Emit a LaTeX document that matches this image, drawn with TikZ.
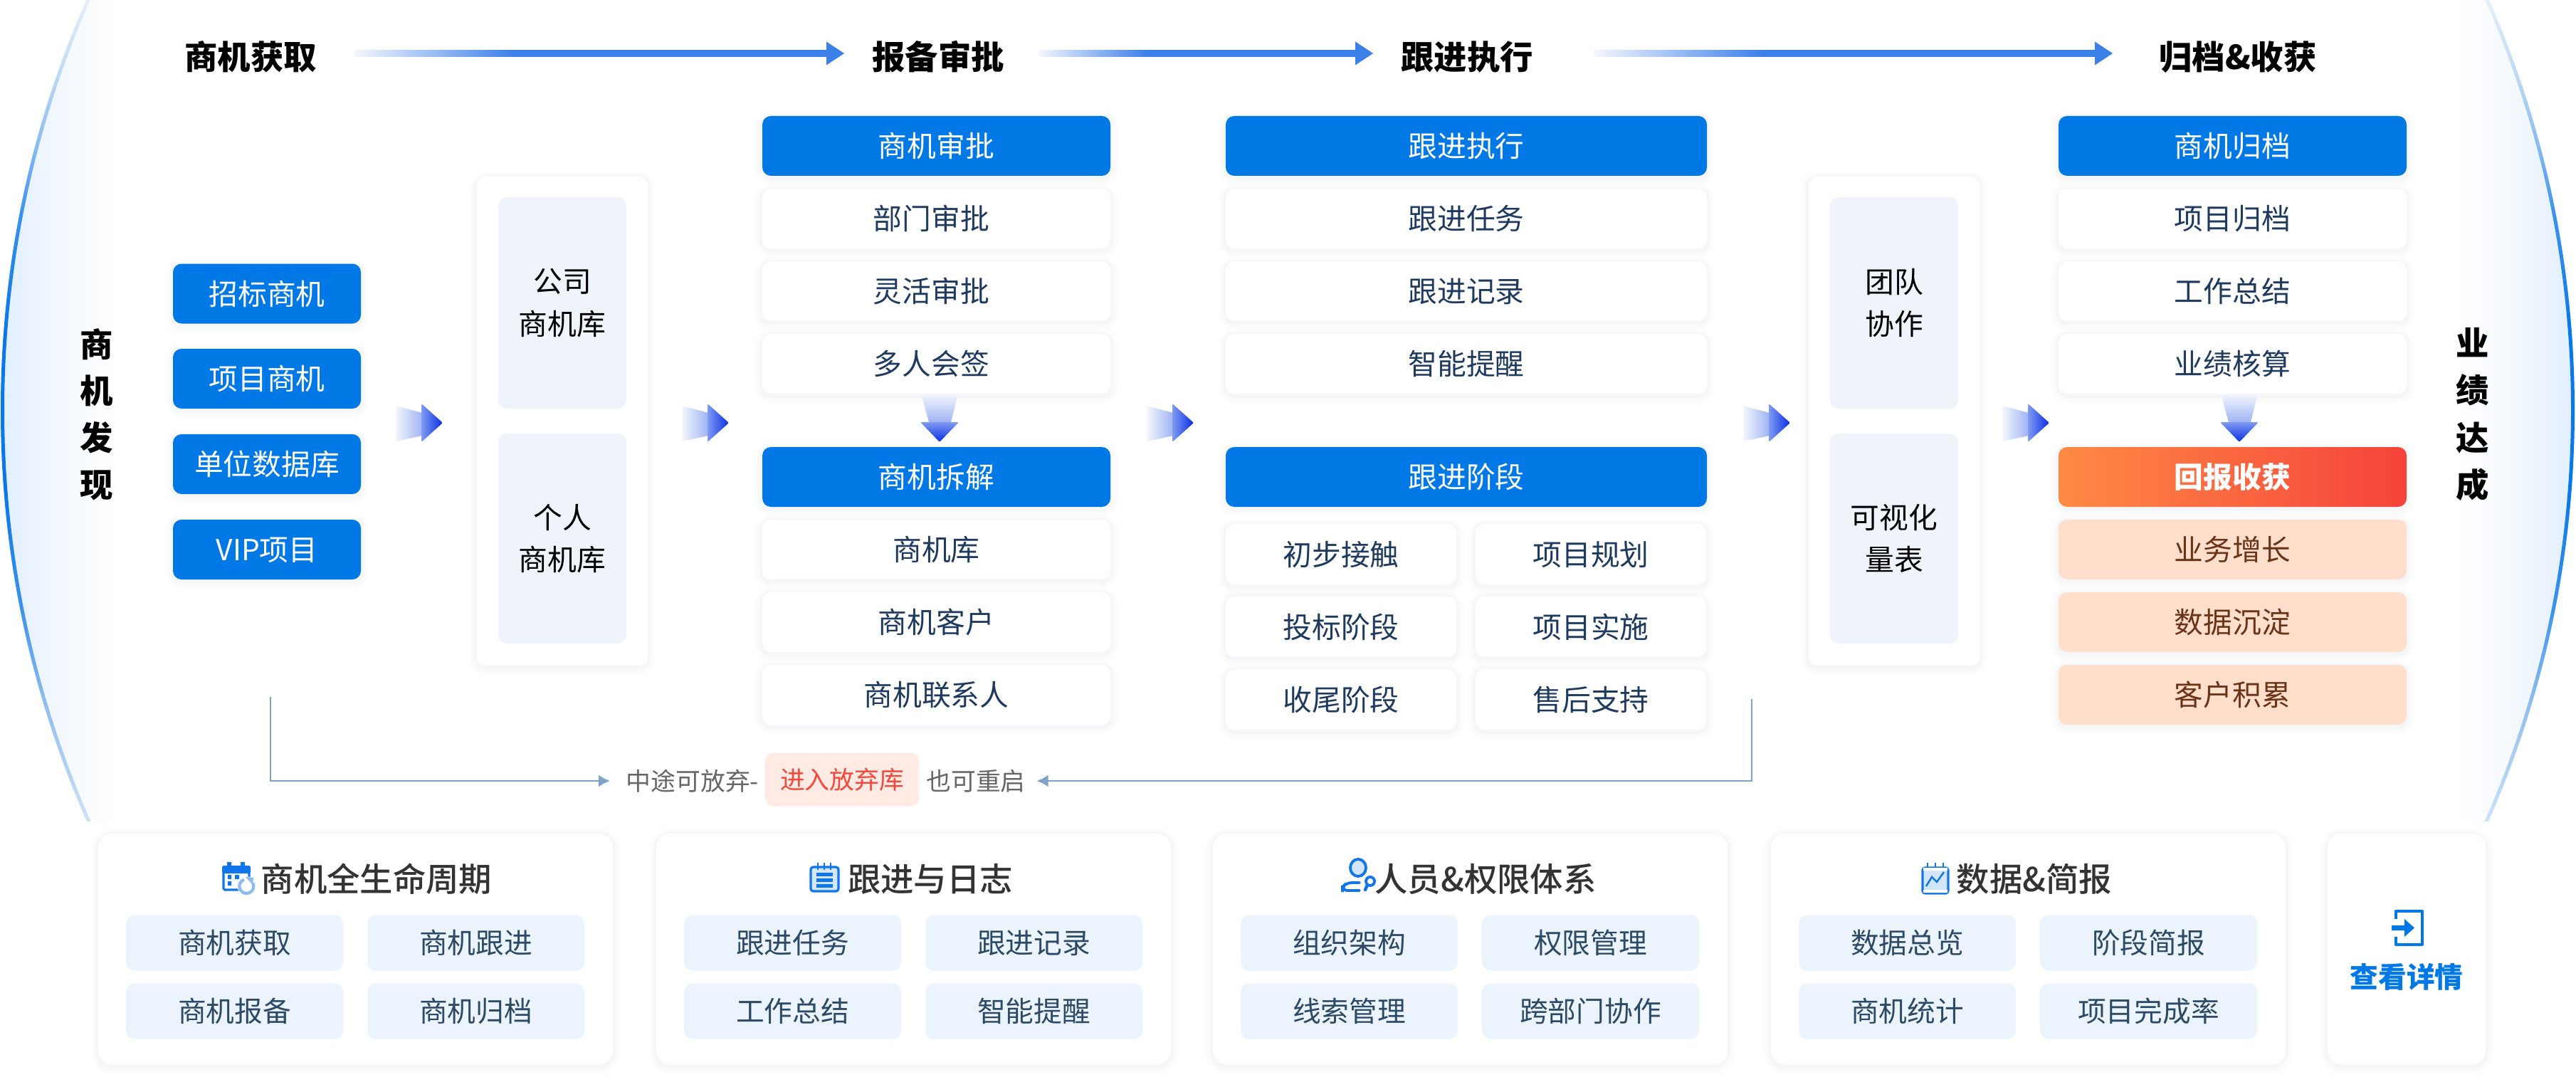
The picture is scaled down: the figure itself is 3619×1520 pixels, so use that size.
\documentclass[tikz,border=0pt]{standalone}
\usepackage{fontspec}
\setmainfont{Noto Sans CJK SC}
\newfontfamily\cardfont{Noto Sans CJK SC Medium}
\usetikzlibrary{arrows.meta}

\definecolor{brandblue}{HTML}{0078E6}
\definecolor{navytext}{HTML}{1F3A5F}
\definecolor{chiptext}{HTML}{2C4A66}
\definecolor{chipfill}{HTML}{EBF3FD}
\definecolor{panelfill}{HTML}{EFF4FB}
\definecolor{peachfill}{HTML}{FFDFCC}
\definecolor{peachtext}{HTML}{6B3418}
\definecolor{tagfill}{HTML}{FFEBE4}
\definecolor{tagtext}{HTML}{F5473B}
\definecolor{linkline}{HTML}{7EA3C6}
\definecolor{shaftblue}{HTML}{3B7FE9}
\definecolor{shaftpale}{HTML}{F4F7FD}
\definecolor{tailend}{HTML}{9FB3F3}
\definecolor{headstart}{HTML}{7F9BF2}
\definecolor{headend}{HTML}{0A2DE3}
\definecolor{gainleft}{HTML}{FF8A45}
\definecolor{gainright}{HTML}{F5433A}
\definecolor{shadowtint}{HTML}{5A7090}
\definecolor{glowblue}{HTML}{E0EEFE}
\definecolor{glowsoft}{HTML}{F5F9FE}
\definecolor{iconblue}{HTML}{1177E8}
\definecolor{iconpale}{HTML}{D3E5FB}
\definecolor{arcend}{HTML}{CCE2F8}
\definecolor{arctop}{HTML}{E6EFFA}
\definecolor{arcsoft}{HTML}{C0DBF5}
\definecolor{arcmid}{HTML}{8CBCEF}
\definecolor{arcstrong}{HTML}{3C92EA}
\definecolor{arcfull}{HTML}{0A78E8}

\pgfdeclareverticalshading{arcshade}{100bp}{color(0bp)=(arcend); color(25bp)=(arcend); color(32.4bp)=(arcmid); color(38bp)=(arcstrong); color(45bp)=(arcfull); color(55bp)=(arcfull); color(62bp)=(arcstrong); color(66.3bp)=(arcmid); color(70.7bp)=(arcsoft); color(75bp)=(arctop); color(100bp)=(arctop)}
\pgfdeclarehorizontalshading{shaftshade}{100bp}{color(0bp)=(shaftpale); color(25bp)=(shaftpale); color(42bp)=(shaftblue); color(100bp)=(shaftblue)}
\pgfdeclarehorizontalshading{glowleft}{100bp}{color(0bp)=(glowblue); color(25bp)=(glowblue); color(52bp)=(glowsoft); color(75bp)=(white); color(100bp)=(white)}
\pgfdeclarehorizontalshading{glowright}{100bp}{color(0bp)=(white); color(25bp)=(white); color(48bp)=(glowsoft); color(75bp)=(glowblue); color(100bp)=(glowblue)}

\tikzset{
  softshadow/.style={
    preaction={draw=shadowtint,line width=6pt,opacity=.012,transform canvas={yshift=-1pt}},
    preaction={draw=shadowtint,line width=4pt,opacity=.018,transform canvas={yshift=-1pt}},
    preaction={draw=shadowtint,line width=2pt,opacity=.025,transform canvas={yshift=-.6pt}}},
  boxsize/.style 2 args={minimum width=#1*0.1mm,minimum height=#2*0.1mm,inner sep=0pt,outer sep=0pt},
  textbig/.style={font=\fontsize{13.2}{16}\bfseries\selectfont,text height=3.5mm,text depth=0pt},
  textbox/.style={font=\fontsize{11.6}{17}\selectfont,text height=3.1mm,text depth=0pt},
  textchip/.style={font=\fontsize{11.3}{14}\selectfont,text height=3mm,text depth=0pt},
  textsmall/.style={font=\fontsize{9.9}{12}\selectfont,text height=2.65mm,text depth=0pt},
  bluebox/.style={fill=brandblue,text=white,rounded corners=1.2mm,softshadow,textbox},
  whitebox/.style={fill=white,text=navytext,rounded corners=1.2mm,softshadow,textbox},
  peachbox/.style={fill=peachfill,text=peachtext,rounded corners=1.2mm,softshadow,textbox},
  outerpanel/.style={fill=white,rounded corners=1.2mm,softshadow},
  innerpanel/.style={fill=panelfill,rounded corners=1.2mm,text=black,align=center,font=\fontsize{11.6}{17}\selectfont},
  card/.style={fill=white,rounded corners=2mm,softshadow},
  chip/.style={fill=chipfill,text=chiptext,rounded corners=1.2mm,textchip},
  toptitle/.style={text=black,textbig},
  sidetitle/.style={text=black,textbig},
  cardtitle/.style={text=black!80,font=\fontsize{13.2}{16}\cardfont\selectfont,text height=3.5mm,text depth=0pt},
  link/.style={draw=linkline,line width=.7pt,-{Latex[length=1.6mm,width=1.7mm]}},
  pics/rightgrad/.style={code={
    \shade[left color=shaftpale,right color=tailend] (0,-24) -- (37,-14) -- (37,18) -- (0,26) -- cycle;
    \shade[left color=headstart,right color=headend,rounded corners=.6pt] (36,-27) -- (66,0) -- (36,27) -- cycle;
  }},
  pics/downgrad/.style={code={
    \shade[top color=shaftpale,bottom color=tailend] (-26,0) -- (26,0) -- (16,40) -- (-15,40) -- cycle;
    \shade[top color=headstart,bottom color=headend,rounded corners=.6pt] (-27,40) -- (27,40) -- (0,68) -- cycle;
  }}
}

\begin{document}
\begin{tikzpicture}[x=0.1mm,y=-0.1mm]
  \useasboundingbox (0,0) rectangle (3619,1520);
  \fill[white] (0,0) rectangle (3619,1520);

  % Side glow
  \begin{scope}
    \clip (1437,576) circle (1436);
    \shade[shading=glowleft] (0,0) rectangle (170,1153);
  \end{scope}
  \begin{scope}
    \clip (2181,576) circle (1436);
    \shade[shading=glowright] (3449,0) rectangle (3619,1153);
  \end{scope}

  % Side arcs
  \begin{scope}[even odd rule]
    \clip (1437,576) circle (1436) (1437,576) circle (1431);
    \shade[shading=arcshade] (0,0) rectangle (130,1153);
  \end{scope}
  \begin{scope}[even odd rule]
    \clip (2181,576) circle (1436) (2181,576) circle (1431);
    \shade[shading=arcshade] (3489,0) rectangle (3619,1153);
  \end{scope}

  % Stage titles
  \node[toptitle] (tt1) at (352,80) {商机获取};
  \node[toptitle] (tt2) at (1318,80) {报备审批};
  \node[toptitle] (tt3) at (2061,80) {跟进执行};
  \node[toptitle] (tt4) at (3144,80) {归档\&收获};

  % Stage arrows
  \foreach \s/\e in {498/1186,1459/1929,2239/2968} {
    \shade[shading=shaftshade] (\s,70.5) rectangle (\e-24,79.5);
    \fill[shaftblue] (\e-25,58.5) -- (\e,75) -- (\e-25,91.5) -- cycle;
  }

  % Side titles
  \foreach \nm/\cy/\txt in {sa/484/商,sb/549/机,sc/615/发,sd/681/现}
    \node[sidetitle] (\nm) at (136,\cy) {\txt};
  \foreach \nm/\cy/\txt in {se/482/业,sf/548/绩,sg/615/达,sh/681/成}
    \node[sidetitle] (\nm) at (3474,\cy) {\txt};

  % Sources
  \foreach \nm/\cy/\txt in {src1/412.5/招标商机,src2/532/项目商机,src3/652/单位数据库,src4/772/VIP项目}
    \node[bluebox,boxsize={264}{84}] (\nm) at (375,\cy) {\txt};

  % Pools
  \node[outerpanel,boxsize={240}{687}] (pool) at (790,591.5) {};
  \node[innerpanel,boxsize={180}{297}] (poolco) at (790,425.5) {公司\\商机库};
  \node[innerpanel,boxsize={180}{295}] (poolme) at (790,756.5) {个人\\商机库};

  % Approval
  \node[bluebox,boxsize={489}{84}] (apphead) at (1315.5,205) {商机审批};
  \foreach \nm/\cy/\txt in {app1/307/部门审批,app2/409/灵活审批,app3/511/多人会签}
    \node[whitebox,boxsize={489}{84}] (\nm) at (1315.5,\cy) {\txt\hspace*{1.4mm}};
  \node[bluebox,boxsize={489}{84}] (splithead) at (1315.5,670) {商机拆解};
  \foreach \nm/\cy/\txt in {split1/772/商机库,split2/874/商机客户,split3/976/商机联系人}
    \node[whitebox,boxsize={489}{84}] (\nm) at (1315.5,\cy) {\txt};

  % Follow-up
  \node[bluebox,boxsize={676}{84}] (fuhead) at (2060,205) {跟进执行};
  \foreach \nm/\cy/\txt in {fu1/307/跟进任务,fu2/409/跟进记录,fu3/511/智能提醒}
    \node[whitebox,boxsize={676}{84}] (\nm) at (2060,\cy) {\txt};
  \node[bluebox,boxsize={676}{84}] (stagehead) at (2060,670) {跟进阶段};
  \foreach \nm/\cx/\cy/\txt in {st1/1884/778.5/初步接触,st2/2235/778.5/项目规划,st3/1884/880.5/投标阶段,st4/2235/880.5/项目实施,st5/1884/982.5/收尾阶段,st6/2235/982.5/售后支持}
    \node[whitebox,boxsize={324}{85}] (\nm) at (\cx,\cy) {\txt};

  % Teamwork
  \node[outerpanel,boxsize={240}{687}] (team) at (2661,591.5) {};
  \node[innerpanel,boxsize={180}{297}] (teama) at (2661,425.5) {团队\\协作};
  \node[innerpanel,boxsize={180}{295}] (teamb) at (2661,756.5) {可视化\\量表};

  % Archive
  \node[bluebox,boxsize={489}{84}] (archead) at (3136.5,205) {商机归档};
  \foreach \nm/\cy/\txt in {arc1/307/项目归档,arc2/409/工作总结,arc3/511/业绩核算}
    \node[whitebox,boxsize={489}{84}] (\nm) at (3136.5,\cy) {\txt};
  \node[left color=gainleft,right color=gainright,text=white,rounded corners=1.2mm,softshadow,textbox,font=\fontsize{11.6}{17}\bfseries\selectfont,boxsize={489}{84}] (gain) at (3136.5,670) {回报收获};
  \foreach \nm/\cy/\txt in {gain1/772/业务增长,gain2/874/数据沉淀,gain3/976/客户积累}
    \node[peachbox,boxsize={489}{84}] (\nm) at (3136.5,\cy) {\txt};

  % Gradient arrows
  \foreach \x in {556,958,1611,2449,2813}
    \pic at (\x,594) {rightgrad};
  \foreach \x in {1320,3146}
    \pic at (\x,553) {downgrad};

  % Abandon loop
  \node[fill=tagfill,text=tagtext,rounded corners=1.2mm,textsmall,boxsize={216}{75}] (tag) at (1183,1095) {进入放弃库};
  \node[text=black!60,textsmall,inner xsep=2.3mm,inner ysep=0pt,outer sep=0pt] (giveup) at (973,1097) {中途可放弃-};
  \node[text=black!60,textsmall,inner xsep=1.6mm,inner ysep=0pt,outer sep=0pt] (restart) at (1371,1097) {也可重启};
  \coordinate (loopa) at (380,979);
  \coordinate (loopb) at (2461,982);
  \draw[link] (loopa) |- (giveup);
  \draw[link] (loopb) |- (restart);

  % Bottom cards
  \foreach \cl/\a/\b/\c/\d in {138/商机获取/商机跟进/商机报备/商机归档,922/跟进任务/跟进记录/工作总结/智能提醒,1704/组织架构/权限管理/线索管理/跨部门协作,2488/数据总览/阶段简报/商机统计/项目完成率} {
    \node[card,boxsize={723}{325}] (card\cl) at (\cl+361.5,1333) {};
    \node[chip,boxsize={305}{78}] (chip\cl a) at (\cl+191.5,1324.5) {\a};
    \node[chip,boxsize={305}{78}] (chip\cl b) at (\cl+530.5,1324.5) {\b};
    \node[chip,boxsize={305}{78}] (chip\cl c) at (\cl+191.5,1420.5) {\c};
    \node[chip,boxsize={305}{78}] (chip\cl d) at (\cl+530.5,1420.5) {\d};
  }
  \node[card,boxsize={222}{325}] (more) at (3381,1333) {};

  \node[cardtitle] (ct1) at (529,1235) {商机全生命周期};
  \node[cardtitle] (ct2) at (1307,1235) {跟进与日志};
  \node[cardtitle] (ct3) at (2087,1235) {人员\&权限体系};
  \node[cardtitle] (ct4) at (2858,1235) {数据\&简报};
  \node[text=brandblue,font=\fontsize{11.3}{14}\bfseries\selectfont,text height=3mm,text depth=0pt] (moretxt) at (3381,1372) {查看详情};

  % Calendar icon
  \draw[iconblue,line width=.9pt,rounded corners=.5pt] (350,1240) -- (350,1218) -- (314,1218) -- (314,1250) -- (335,1250);
  \fill[iconblue,rounded corners=.5pt] (312,1216) rectangle (352,1227);
  \fill[iconblue] (319,1211) rectangle (325,1218) (338,1211) rectangle (344,1218);
  \fill[iconblue] (320,1229) rectangle (325,1235) (330,1229) rectangle (336,1235) (320,1238) rectangle (325,1244);
  \fill[white] (346,1244) circle (13);
  \draw[arcmid,line width=1.2pt] (355,1240) arc (-30:250:10);
  \fill[arcmid] (345,1232) -- (356,1233) -- (355,1243) -- cycle;

  % Notepad icon
  \draw[iconblue,fill=iconpale,line width=.9pt,rounded corners=1pt] (1139,1218) rectangle (1178,1252);
  \foreach \x in {1149,1158,1167}
    \draw[iconblue,line width=.7pt] (\x,1212) -- (\x,1222);
  \foreach \y in {1228,1236,1244}
    \fill[iconblue] (1147,\y-2.5) rectangle (1170,\y+2.5);

  % Person icon
  \draw[iconblue,fill=iconpale,line width=1.1pt] (1908,1219) ellipse (11 and 12);
  \draw[iconblue,line width=1.1pt,rounded corners=2pt,line cap=round] (1910,1240) -- (1892,1240) -- (1886,1246) -- (1886,1251) -- (1910,1251);
  \draw[iconblue,line width=1.1pt] (1925,1238) circle (6);
  \draw[iconblue,line width=1.3pt,line cap=round] (1921,1243) -- (1918,1250);

  % Chart icon
  \draw[iconblue,fill=iconpale,line width=.9pt,rounded corners=1pt] (2701,1219) rectangle (2737,1255);
  \fill[white] (2702,1219) rectangle (2736,1223) (2702,1250) rectangle (2736,1254);
  \foreach \x in {2708,2719,2730}
    \draw[iconblue,line width=.6pt] (\x,1212) -- (\x,1219);
  \draw[iconblue,line width=.7pt] (2706,1245) -- (2714,1232) -- (2721,1239) -- (2731,1225);

  % Enter icon
  \draw[brandblue,line width=1.3pt,line join=round] (3366,1291) -- (3366,1280) -- (3403,1280) -- (3403,1327) -- (3366,1327) -- (3366,1316);
  \fill[brandblue] (3360,1300) -- (3378,1300) -- (3378,1291) -- (3392,1303.5) -- (3378,1316) -- (3378,1307) -- (3360,1307) -- cycle;
\end{tikzpicture}
\end{document}
